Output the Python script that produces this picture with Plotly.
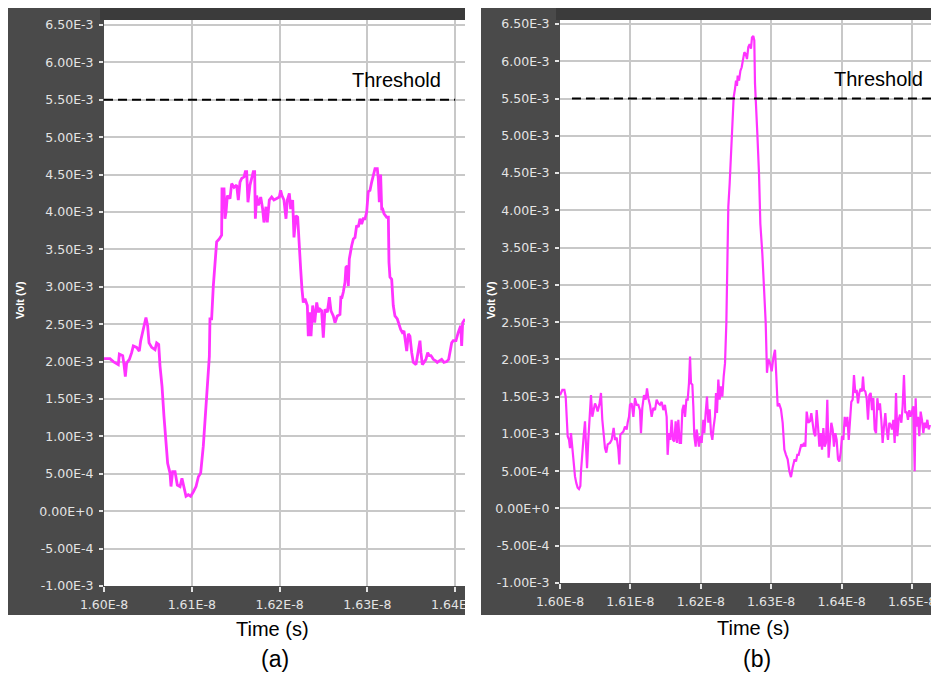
import plotly.graph_objects as go

# ---------------- data ----------------
# panel (a): time in ns, voltage in mV
time_a_ns = [16.0000, 16.0068, 16.0106, 16.0163, 16.0175, 16.0213, 16.0228, 16.0243, 16.0258, 16.0289,
             16.0315, 16.0334, 16.0372, 16.0402, 16.0418, 16.0448, 16.0478, 16.0497, 16.0513, 16.0543,
             16.0581, 16.0600, 16.0623, 16.0638, 16.0661, 16.0683, 16.0702, 16.0725, 16.0752, 16.0763,
             16.0782, 16.0809, 16.0835, 16.0866, 16.0888, 16.0911, 16.0934, 16.0960, 16.0987, 16.1018,
             16.1048, 16.1075, 16.1101, 16.1131, 16.1162, 16.1181, 16.1200, 16.1207, 16.1226, 16.1245,
             16.1264, 16.1283, 16.1313, 16.1340, 16.1344, 16.1367, 16.1378, 16.1390, 16.1405, 16.1435,
             16.1454, 16.1481, 16.1511, 16.1530, 16.1549, 16.1568, 16.1595, 16.1610, 16.1625, 16.1640,
             16.1663, 16.1682, 16.1701, 16.1716, 16.1724, 16.1739, 16.1758, 16.1785, 16.1807, 16.1822,
             16.1845, 16.1860, 16.1883, 16.1910, 16.1936, 16.1967, 16.1997, 16.2012, 16.2027, 16.2050,
             16.2073, 16.2088, 16.2111, 16.2126, 16.2149, 16.2164, 16.2187, 16.2206, 16.2217, 16.2225,
             16.2240, 16.2255, 16.2270, 16.2289, 16.2316, 16.2327, 16.2346, 16.2358, 16.2377, 16.2400,
             16.2423, 16.2441, 16.2460, 16.2479, 16.2498, 16.2517, 16.2544, 16.2567, 16.2585, 16.2612,
             16.2631, 16.2657, 16.2688, 16.2699, 16.2707, 16.2726, 16.2745, 16.2756, 16.2771, 16.2783,
             16.2794, 16.2821, 16.2840, 16.2859, 16.2878, 16.2897, 16.2916, 16.2935, 16.2953, 16.2973,
             16.2992, 16.3010, 16.3030, 16.3049, 16.3067, 16.3087, 16.3113, 16.3124, 16.3136, 16.3151,
             16.3163, 16.3174, 16.3189, 16.3220, 16.3239, 16.3246, 16.3257, 16.3277, 16.3295, 16.3314,
             16.3341, 16.3364, 16.3379, 16.3398, 16.3417, 16.3432, 16.3448, 16.3467, 16.3485, 16.3505,
             16.3523, 16.3554, 16.3580, 16.3599, 16.3610, 16.3626, 16.3645, 16.3667, 16.3687, 16.3705,
             16.3724, 16.3751, 16.3778, 16.3796, 16.3819, 16.3846, 16.3872, 16.3903, 16.3926, 16.3941,
             16.3960, 16.3978, 16.4009, 16.4035, 16.4063, 16.4074, 16.4085, 16.4112]
volt_a_mV = [2.04, 2.04, 2.00, 1.96, 2.10, 2.08, 1.96, 1.80, 1.98, 2.03,
             2.12, 2.21, 2.19, 2.14, 2.28, 2.46, 2.59, 2.48, 2.25, 2.19,
             2.16, 2.25, 2.23, 1.94, 1.67, 1.27, 1.00, 0.64, 0.51, 0.33,
             0.53, 0.53, 0.35, 0.33, 0.44, 0.31, 0.20, 0.22, 0.20, 0.26,
             0.33, 0.46, 0.51, 0.87, 1.40, 1.81, 2.07, 2.57, 2.57, 3.01,
             3.33, 3.60, 3.64, 3.69, 4.31, 4.31, 3.91, 4.00, 4.22, 4.18,
             4.38, 4.33, 4.36, 4.16, 4.40, 4.45, 4.47, 4.54, 4.54, 4.13,
             4.36, 4.45, 4.54, 4.54, 3.91, 4.22, 4.09, 4.20, 4.04, 3.86,
             4.07, 3.86, 4.16, 4.20, 4.16, 4.18, 4.20, 4.29, 4.22, 4.16,
             3.91, 4.16, 4.25, 4.04, 4.16, 3.66, 3.95, 3.93, 3.66, 3.46,
             3.24, 2.97, 2.79, 2.84, 2.75, 2.34, 2.66, 2.34, 2.75, 2.52,
             2.79, 2.66, 2.70, 2.68, 2.32, 2.70, 2.66, 2.86, 2.68, 2.61,
             2.52, 2.61, 2.63, 2.88, 2.84, 2.93, 3.06, 3.26, 3.28, 3.01,
             3.37, 3.55, 3.64, 3.66, 3.82, 3.80, 3.91, 3.84, 3.91, 3.91,
             4.00, 4.27, 4.29, 4.40, 4.51, 4.58, 4.58, 4.45, 4.13, 4.50,
             4.04, 4.04, 3.98, 3.93, 3.93, 3.33, 3.13, 3.10, 2.75, 2.61,
             2.57, 2.48, 2.43, 2.39, 2.41, 2.28, 2.14, 2.37, 2.34, 2.12,
             1.99, 1.96, 2.12, 2.28, 2.12, 1.96, 1.99, 2.03, 2.12, 2.08,
             2.08, 2.03, 2.01, 1.99, 2.01, 2.03, 1.99, 2.00, 2.03, 2.14,
             2.25, 2.28, 2.28, 2.39, 2.48, 2.21, 2.52, 2.57]

# panel (b): time in ns, voltage in mV
time_b_ns = [16.0000, 16.0033, 16.0062, 16.0081, 16.0095, 16.0109, 16.0128, 16.0142, 16.0156, 16.0175,
             16.0194, 16.0213, 16.0232, 16.0251, 16.0270, 16.0289, 16.0298, 16.0317, 16.0336, 16.0355,
             16.0369, 16.0384, 16.0402, 16.0421, 16.0440, 16.0459, 16.0478, 16.0497, 16.0516, 16.0535,
             16.0559, 16.0582, 16.0601, 16.0620, 16.0639, 16.0658, 16.0677, 16.0710, 16.0734, 16.0762,
             16.0781, 16.0805, 16.0829, 16.0843, 16.0857, 16.0876, 16.0900, 16.0923, 16.0947, 16.0961,
             16.0980, 16.0994, 16.1018, 16.1042, 16.1065, 16.1089, 16.1113, 16.1136, 16.1150, 16.1169,
             16.1193, 16.1217, 16.1236, 16.1255, 16.1278, 16.1302, 16.1326, 16.1349, 16.1373, 16.1397,
             16.1420, 16.1444, 16.1468, 16.1491, 16.1515, 16.1529, 16.1548, 16.1567, 16.1586, 16.1605,
             16.1624, 16.1643, 16.1662, 16.1681, 16.1700, 16.1719, 16.1738, 16.1757, 16.1776, 16.1795,
             16.1814, 16.1832, 16.1847, 16.1861, 16.1880, 16.1894, 16.1908, 16.1927, 16.1941, 16.1955,
             16.1974, 16.1993, 16.2012, 16.2036, 16.2050, 16.2069, 16.2088, 16.2107, 16.2126, 16.2145,
             16.2164, 16.2183, 16.2202, 16.2216, 16.2230, 16.2249, 16.2268, 16.2287, 16.2306, 16.2325,
             16.2344, 16.2363, 16.2377, 16.2391, 16.2410, 16.2429, 16.2448, 16.2467, 16.2486, 16.2500,
             16.2514, 16.2524, 16.2543, 16.2562, 16.2581, 16.2599, 16.2618, 16.2637, 16.2656, 16.2675,
             16.2694, 16.2713, 16.2727, 16.2746, 16.2760, 16.2770, 16.2789, 16.2803, 16.2827, 16.2846,
             16.2874, 16.2898, 16.2922, 16.2940, 16.2959, 16.2983, 16.3007, 16.3030, 16.3054, 16.3073,
             16.3092, 16.3111, 16.3139, 16.3163, 16.3187, 16.3210, 16.3234, 16.3258, 16.3281, 16.3305,
             16.3333, 16.3352, 16.3371, 16.3390, 16.3409, 16.3428, 16.3447, 16.3466, 16.3485, 16.3504,
             16.3527, 16.3551, 16.3570, 16.3589, 16.3608, 16.3627, 16.3646, 16.3665, 16.3684, 16.3703,
             16.3722, 16.3741, 16.3759, 16.3778, 16.3797, 16.3816, 16.3835, 16.3854, 16.3873, 16.3892,
             16.3911, 16.3930, 16.3949, 16.3968, 16.3987, 16.4006, 16.4025, 16.4044, 16.4063, 16.4082,
             16.4101, 16.4119, 16.4138, 16.4157, 16.4176, 16.4195, 16.4214, 16.4233, 16.4252, 16.4271,
             16.4290, 16.4304, 16.4318, 16.4337, 16.4356, 16.4375, 16.4394, 16.4413, 16.4432, 16.4451,
             16.4470, 16.4489, 16.4508, 16.4527, 16.4545, 16.4564, 16.4583, 16.4602, 16.4621, 16.4640,
             16.4659, 16.4678, 16.4697, 16.4716, 16.4735, 16.4754, 16.4773, 16.4792, 16.4811, 16.4830,
             16.4849, 16.4867, 16.4886, 16.4905, 16.4924, 16.4943, 16.4962, 16.4981, 16.5000, 16.5019,
             16.5038, 16.5052, 16.5066, 16.5085, 16.5104, 16.5123, 16.5142, 16.5161, 16.5180, 16.5199,
             16.5218, 16.5237, 16.5256]
volt_b_mV = [1.52, 1.59, 1.59, 1.50, 1.23, 0.97, 0.92, 0.81, 1.01, 0.79,
             0.59, 0.43, 0.34, 0.28, 0.26, 0.30, 0.50, 0.79, 0.97, 1.17,
             0.92, 0.54, 0.92, 1.19, 1.52, 1.23, 1.30, 1.41, 1.37, 1.30,
             1.39, 1.55, 1.19, 0.97, 0.81, 0.75, 0.86, 0.88, 0.92, 1.08,
             0.92, 0.95, 0.79, 0.59, 0.99, 1.01, 1.03, 1.10, 1.06, 1.15,
             1.23, 1.39, 1.41, 1.23, 1.48, 1.39, 1.39, 1.32, 1.01, 1.35,
             1.52, 1.46, 1.61, 1.48, 1.39, 1.23, 1.35, 1.32, 1.46, 1.41,
             1.39, 1.43, 1.32, 1.39, 1.23, 0.72, 1.01, 0.92, 1.19, 0.92,
             0.90, 1.17, 0.88, 1.19, 0.88, 0.88, 1.32, 1.39, 1.23, 1.46,
             1.46, 1.68, 2.04, 1.68, 1.66, 1.37, 0.97, 0.83, 1.06, 0.97,
             0.83, 0.97, 0.88, 1.19, 1.01, 1.28, 1.50, 1.15, 1.33, 1.01,
             0.92, 1.10, 1.24, 1.55, 1.28, 1.73, 1.46, 1.64, 1.50, 1.77,
             1.95, 2.49, 3.11, 4.05, 4.36, 4.72, 5.16, 5.52, 5.63, 5.74,
             5.67, 5.81, 5.74, 5.87, 5.92, 6.03, 6.12, 6.10, 6.03, 6.19,
             6.23, 6.17, 6.32, 6.34, 6.28, 5.70, 5.38, 5.03, 4.49, 3.82,
             3.42, 2.98, 2.49, 1.82, 2.00, 1.95, 1.84, 2.02, 2.13, 1.77,
             1.37, 1.41, 1.33, 1.15, 0.79, 0.72, 0.66, 0.50, 0.42, 0.55,
             0.66, 0.63, 0.72, 0.72, 0.79, 0.86, 0.83, 0.88, 0.83, 1.30,
             1.15, 1.17, 1.28, 1.15, 1.01, 0.97, 1.32, 1.10, 0.83, 1.01,
             0.79, 1.08, 0.83, 0.88, 1.46, 0.68, 0.97, 1.15, 1.06, 0.83,
             1.01, 0.92, 0.66, 0.63, 0.75, 0.97, 0.92, 1.23, 1.10, 1.23,
             0.92, 1.23, 1.43, 1.46, 1.79, 1.55, 1.59, 1.41, 1.55, 1.61,
             1.57, 1.77, 1.59, 1.57, 1.48, 1.19, 1.52, 1.55, 1.32, 1.48,
             1.06, 1.01, 1.48, 1.32, 1.41, 1.19, 0.88, 1.10, 1.28, 1.06,
             0.92, 1.15, 1.12, 1.06, 1.19, 0.88, 1.55, 0.97, 1.19, 1.26,
             1.15, 1.37, 1.79, 1.28, 1.30, 1.19, 1.32, 1.23, 1.32, 1.37,
             0.50, 1.48, 1.10, 1.23, 0.97, 1.30, 1.19, 1.01, 1.15, 1.08,
             1.19, 1.06, 1.12]

threshold_V = 5.5e-3
threshold_span_a = [1.600e-8, 1.640e-8]
threshold_span_b = [1.6017e-8, 1.6527e-8]

y_tick_vals = [-1.0e-3, -5.0e-4, 0.0, 5.0e-4, 1.0e-3, 1.5e-3, 2.0e-3, 2.5e-3, 3.0e-3,
               3.5e-3, 4.0e-3, 4.5e-3, 5.0e-3, 5.5e-3, 6.0e-3, 6.5e-3]
y_tick_text = ["-1.00E-3", "-5.00E-4", "0.00E+0", "5.00E-4", "1.00E-3", "1.50E-3", "2.00E-3",
               "2.50E-3", "3.00E-3", "3.50E-3", "4.00E-3", "4.50E-3", "5.00E-3", "5.50E-3",
               "6.00E-3", "6.50E-3"]
x_tick_vals_a = [1.60e-8, 1.61e-8, 1.62e-8, 1.63e-8, 1.64e-8]
x_tick_text_a = ["1.60E-8", "1.61E-8", "1.62E-8", "1.63E-8", "1.64E-8"]
x_tick_vals_b = [1.60e-8, 1.61e-8, 1.62e-8, 1.63e-8, 1.64e-8, 1.65e-8]
x_tick_text_b = ["1.60E-8", "1.61E-8", "1.62E-8", "1.63E-8", "1.64E-8", "1.65E-8"]

# unit conversion (ns -> s, mV -> V)
t_a = [t * 1e-9 for t in time_a_ns]
v_a = [v * 1e-3 for v in volt_a_mV]
t_b = [t * 1e-9 for t in time_b_ns]
v_b = [v * 1e-3 for v in volt_b_mV]

# ---------------- layout helpers ----------------
W, H = 931, 673
def fx(px):
    return px / W
def fy(py):
    return 1 - py / H

FRAME = "#4a4a4a"
TOPBAR = "#3b3b3b"
TRACE = "#ff33ff"
GRID = "#c8c8c8"
TICKFONT = dict(family="DejaVu Sans", size=12.5, color="#e4e4e4")

fig = go.Figure()
fig.add_trace(go.Scatter(x=t_a, y=v_a, mode="lines", line=dict(color=TRACE, width=2.8),
                         xaxis="x", yaxis="y", showlegend=False))
fig.add_trace(go.Scatter(x=threshold_span_a, y=[threshold_V, threshold_V], mode="lines",
                         line=dict(color="black", width=2, dash="9px,5px"),
                         xaxis="x", yaxis="y", showlegend=False))
fig.add_trace(go.Scatter(x=t_b, y=v_b, mode="lines", line=dict(color=TRACE, width=2.2),
                         xaxis="x2", yaxis="y2", showlegend=False))
fig.add_trace(go.Scatter(x=threshold_span_b, y=[threshold_V, threshold_V], mode="lines",
                         line=dict(color="black", width=2, dash="9px,5px"),
                         xaxis="x2", yaxis="y2", showlegend=False))

shapes = []
def rect(x0, y0, x1, y1, color, layer="below"):
    shapes.append(dict(type="rect", xref="paper", yref="paper",
                       x0=fx(x0), x1=fx(x1), y0=fy(y1), y1=fy(y0),
                       fillcolor=color, line=dict(width=0), layer=layer))

# panel (a) frame
rect(8, 8, 104, 615, FRAME)
rect(104, 586, 465, 615, FRAME)
rect(100, 8, 465, 20, TOPBAR)
# panel (b) frame
rect(481, 8, 560, 615, FRAME)
rect(560, 583, 931, 615, FRAME)
rect(556, 8, 931, 20, TOPBAR)
# gap between the panels hides the overflowing end of the last tick label of (a)
rect(465, 586, 481, 616, "white", layer="above")

common_y = dict(tickvals=y_tick_vals, ticktext=y_tick_text, showgrid=True, gridcolor=GRID,
                gridwidth=1.5, zeroline=False, ticks="outside", ticklen=4, tickwidth=1.5,
                tickcolor="#e4e4e4", tickfont=TICKFONT, showline=False, fixedrange=True,
                ticklabelstandoff=3, automargin=False)
common_x = dict(showgrid=True, gridcolor=GRID, gridwidth=1.5, zeroline=False, ticks="outside",
                ticklen=5, tickwidth=1.5, tickcolor="#e4e4e4", tickfont=TICKFONT,
                showline=False, fixedrange=True, ticklabelstandoff=2, automargin=False,
                ticklabeloverflow="allow")

fig.update_layout(
    width=W, height=H, autosize=False,
    margin=dict(l=0, r=0, t=0, b=0, pad=0),
    paper_bgcolor="white", plot_bgcolor="white",
    shapes=shapes,
    xaxis=dict(domain=[fx(104), fx(465)], range=[1.600e-8, 1.64112e-8],
               tickvals=x_tick_vals_a, ticktext=x_tick_text_a, anchor="y", **common_x),
    yaxis=dict(domain=[fy(586), fy(20)], range=[-1.0e-3, 6.567e-3], anchor="x", **common_y),
    xaxis2=dict(domain=[fx(560), 1.0], range=[1.600e-8, 1.6527e-8],
                tickvals=x_tick_vals_b, ticktext=x_tick_text_b, anchor="y2", **common_x),
    yaxis2=dict(domain=[fy(583), fy(20)], range=[-1.0e-3, 6.554e-3], anchor="x2", **common_y),
    font=dict(family="Liberation Sans, Arial, sans-serif", color="black"),
)

ann = []
def text(px, py, s, size, color="black", bold=False, angle=0):
    ann.append(dict(xref="paper", yref="paper", x=fx(px), y=fy(py), text=(f"<b>{s}</b>" if bold else s),
                    showarrow=False, xanchor="center", yanchor="middle", textangle=angle,
                    font=dict(family="Liberation Sans, Arial, sans-serif", size=size, color=color)))

text(20, 300, "Volt (V)", 11, color="white", bold=True, angle=-90)
text(491, 300, "Volt (V)", 11, color="white", bold=True, angle=-90)
text(396, 80, "Threshold", 20)
text(878, 79, "Threshold", 20)
text(272, 629, "Time (s)", 20)
text(753, 628, "Time (s)", 20)
text(275, 659, "(a)", 23)
text(757, 659, "(b)", 23)
fig.update_layout(annotations=ann)

fig.write_html("out.html", config={"displayModeBar": False})
